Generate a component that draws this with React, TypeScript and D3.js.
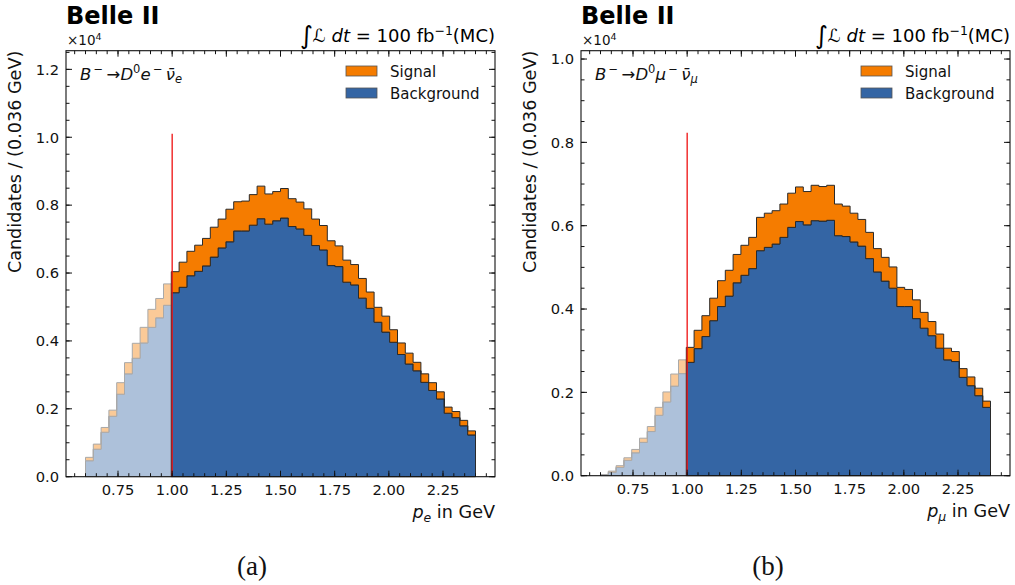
import React from "react";
import * as d3 from "d3";

// ---------- data ----------
const histLow = 0.6;
const binWidth = 0.036;
const nBins = 50;
const cutValue = 1.0;
const nBelowCut = 11; // bins drawn faded (below p = 1 GeV)

const xTicks = [0.75, 1.0, 1.25, 1.5, 1.75, 2.0, 2.25];
const xTickLabels = ["0.75", "1.00", "1.25", "1.50", "1.75", "2.00", "2.25"];
const yTicksA = [0, 0.2, 0.4, 0.6, 0.8, 1.0, 1.2];
const yTickLabelsA = ["0.0", "0.2", "0.4", "0.6", "0.8", "1.0", "1.2"];
const yTicksB = [0, 0.2, 0.4, 0.6, 0.8, 1.0];
const yTickLabelsB = ["0.0", "0.2", "0.4", "0.6", "0.8", "1.0"];

// electron channel (units of 10^4 candidates)
const backgroundE = [
  0.047, 0.081, 0.131, 0.178, 0.243, 0.303, 0.349, 0.394, 0.44, 0.468,
  0.505, 0.542, 0.558, 0.592, 0.605, 0.621, 0.647, 0.674, 0.692, 0.724,
  0.724, 0.741, 0.76, 0.744, 0.754, 0.762, 0.737, 0.73, 0.711, 0.681,
  0.668, 0.622, 0.619, 0.573, 0.565, 0.526, 0.496, 0.455, 0.426, 0.396,
  0.36, 0.332, 0.312, 0.278, 0.254, 0.229, 0.187, 0.174, 0.15, 0.123,
];
const signalE = [
  0.01, 0.015, 0.014, 0.018, 0.034, 0.033, 0.044, 0.046, 0.053, 0.057,
  0.063, 0.062, 0.074, 0.072, 0.077, 0.081, 0.088, 0.085, 0.096, 0.086,
  0.088, 0.09, 0.096, 0.089, 0.086, 0.087, 0.082, 0.079, 0.078, 0.078,
  0.072, 0.073, 0.061, 0.065, 0.06, 0.058, 0.048, 0.044, 0.047, 0.037,
  0.034, 0.032, 0.025, 0.025, 0.023, 0.021, 0.018, 0.018, 0.016, 0.012,
];

// muon channel
const backgroundMu = [
  0.002, 0.008, 0.02, 0.037, 0.055, 0.08, 0.106, 0.145, 0.177, 0.215,
  0.245, 0.272, 0.305, 0.334, 0.372, 0.406, 0.431, 0.463, 0.481, 0.497,
  0.54, 0.548, 0.556, 0.572, 0.596, 0.61, 0.602, 0.612, 0.611, 0.613,
  0.576, 0.574, 0.561, 0.551, 0.521, 0.489, 0.467, 0.45, 0.406, 0.406,
  0.377, 0.354, 0.336, 0.306, 0.278, 0.274, 0.236, 0.216, 0.192, 0.164,
];
const signalMu = [
  0.0, 0.003, 0.004, 0.006, 0.008, 0.01, 0.012, 0.019, 0.024, 0.029,
  0.033, 0.036, 0.044, 0.05, 0.054, 0.062, 0.062, 0.068, 0.072, 0.075,
  0.08, 0.082, 0.08, 0.08, 0.082, 0.083, 0.08, 0.085, 0.083, 0.084,
  0.076, 0.073, 0.069, 0.064, 0.063, 0.056, 0.057, 0.051, 0.046, 0.041,
  0.045, 0.038, 0.034, 0.034, 0.028, 0.024, 0.021, 0.021, 0.018, 0.015,
];

const ORANGE = "#f57c00";
const BLUE = "#3465a4";
const EDGE = "#2a2a2a";
const FONT = "DejaVu Sans, sans-serif";

const edges = d3.range(nBins + 1).map((i) => histLow + i * binWidth);

type PanelProps = {
  left: number;
  right: number;
  top: number;
  bottom: number;
  yMax: number;
  yTicks: number[];
  yTickLabels: string[];
  background: number[];
  signal: number[];
  cutTop: number;
  lepton: string;
  caption: string;
  captionX: number;
};

function stepPts(lo: number[], hi: number[], from: number, to: number) {
  const pts: { x: number; lo: number; hi: number }[] = [];
  for (let i = from; i < to; i++) {
    pts.push({ x: edges[i], lo: lo[i], hi: hi[i] });
    pts.push({ x: edges[i + 1], lo: lo[i], hi: hi[i] });
  }
  return pts;
}

function Panel(p: PanelProps) {
  const x = d3.scaleLinear().domain([0.51, 2.49]).range([p.left, p.right]);
  const y = d3.scaleLinear().domain([0, p.yMax]).range([p.bottom, p.top]);
  const zeros = p.background.map(() => 0);
  const total = p.background.map((b, i) => b + p.signal[i]);

  const area = d3
    .area<{ x: number; lo: number; hi: number }>()
    .x((d) => x(d.x))
    .y0((d) => y(d.lo))
    .y1((d) => y(d.hi));

  const parts = [
    { from: 0, to: nBelowCut, opacity: 0.4 },
    { from: nBelowCut, to: nBins, opacity: 1 },
  ];

  const xMinor = d3.range(11, 50).map((k) => k * 0.05);
  const yMinor = d3.range(0, Math.floor(p.yMax / 0.05 + 1e-6) + 1).map((k) => k * 0.05);
  const major = 6;
  const minor = 3.5;

  const legX = p.right - 149;
  const decayX = p.left + 14;
  const sup = 11.5;

  return (
    <g>
      {/* histograms */}
      {parts.map((pt, k) => (
        <g key={k} opacity={pt.opacity}>
          <path
            d={area(stepPts(zeros, p.background, pt.from, pt.to)) || ""}
            fill={BLUE}
            stroke={EDGE}
            strokeWidth={1}
          />
          <path
            d={area(stepPts(p.background, total, pt.from, pt.to)) || ""}
            fill={ORANGE}
            stroke={EDGE}
            strokeWidth={1}
          />
        </g>
      ))}
      {/* cut line */}
      <line
        x1={x(cutValue)}
        x2={x(cutValue)}
        y1={y(0)}
        y2={y(p.cutTop)}
        stroke="#ee1111"
        strokeWidth={1.3}
      />
      {/* frame */}
      <rect
        x={p.left}
        y={p.top}
        width={p.right - p.left}
        height={p.bottom - p.top}
        fill="none"
        stroke="#111"
        strokeWidth={1.1}
      />
      {/* x ticks */}
      {xTicks.map((t) => (
        <g key={"xt" + t}>
          <line x1={x(t)} x2={x(t)} y1={p.bottom} y2={p.bottom - major} stroke="#111" />
          <line x1={x(t)} x2={x(t)} y1={p.top} y2={p.top + major} stroke="#111" />
        </g>
      ))}
      {xMinor.map((t) => (
        <g key={"xm" + t}>
          <line x1={x(t)} x2={x(t)} y1={p.bottom} y2={p.bottom - minor} stroke="#111" />
          <line x1={x(t)} x2={x(t)} y1={p.top} y2={p.top + minor} stroke="#111" />
        </g>
      ))}
      {xTicks.map((t, i) => (
        <text
          key={"xl" + t}
          x={x(t)}
          y={p.bottom + 18}
          textAnchor="middle"
          fontFamily={FONT}
          fontSize={14.7}
          fill="#111"
        >
          {xTickLabels[i]}
        </text>
      ))}
      {/* y ticks */}
      {p.yTicks.map((t) => (
        <g key={"yt" + t}>
          <line x1={p.left} x2={p.left + major} y1={y(t)} y2={y(t)} stroke="#111" />
          <line x1={p.right} x2={p.right - major} y1={y(t)} y2={y(t)} stroke="#111" />
        </g>
      ))}
      {yMinor.map((t) => (
        <g key={"ym" + t}>
          <line x1={p.left} x2={p.left + minor} y1={y(t)} y2={y(t)} stroke="#111" />
          <line x1={p.right} x2={p.right - minor} y1={y(t)} y2={y(t)} stroke="#111" />
        </g>
      ))}
      {p.yTicks.map((t, i) => (
        <text
          key={"yl" + t}
          x={p.left - 7}
          y={y(t) + 5.3}
          textAnchor="end"
          fontFamily={FONT}
          fontSize={14.7}
          fill="#111"
        >
          {p.yTickLabels[i]}
        </text>
      ))}
      {/* y label */}
      <text
        transform={`translate(${p.left - 45},${p.top}) rotate(-90)`}
        textAnchor="end"
        fontFamily={FONT}
        fontSize={17.6}
        fill="#111"
      >
        Candidates / (0.036 GeV)
      </text>
      {/* x label */}
      <text
        x={p.right}
        y={p.bottom + 41}
        textAnchor="end"
        fontFamily={FONT}
        fontSize={17.6}
        fill="#111"
      >
        <tspan fontStyle="italic">p</tspan>
        <tspan fontStyle="italic" fontSize={12.5} dy={4}>
          {p.lepton}
        </tspan>
        <tspan dy={-4}> in GeV</tspan>
      </text>
      {/* Belle II */}
      <text x={p.left} y={24} fontFamily={FONT} fontWeight="bold" fontSize={24} fill="#000">
        Belle II
      </text>
      <text x={p.left + 1} y={44.5} fontFamily={FONT} fontSize={13.5} fill="#111">
        ×10
        <tspan fontSize={9.5} dy={-5}>
          4
        </tspan>
      </text>
      {/* luminosity */}
      <text x={p.right} y={42} textAnchor="end" fontFamily={FONT} fontSize={18} fill="#000">
        <tspan fontSize={25} dy={2}>
          ∫
        </tspan>
        <tspan fontStyle="italic" dy={-2}>
          ℒ
        </tspan>
        <tspan fontStyle="italic"> dt</tspan>
        <tspan> = 100 fb</tspan>
        <tspan fontSize={12.5} dy={-7}>
          −1
        </tspan>
        <tspan dy={7}>(MC)</tspan>
      </text>
      {/* decay label */}
      <text x={decayX} y={80} fontFamily={FONT} fontSize={16.5} fill="#111">
        <tspan fontStyle="italic">B</tspan>
        <tspan fontSize={sup} dy={-7}>
          {"\u2009−"}
        </tspan>
        <tspan dy={7}>{"\u2009→"}</tspan>
        <tspan fontStyle="italic">D</tspan>
        <tspan fontSize={sup} dy={-7}>
          0
        </tspan>
        <tspan fontStyle="italic" dy={7}>
          {p.lepton}
        </tspan>
        <tspan fontSize={sup} dy={-7}>
          {"\u2009−"}
        </tspan>
        <tspan fontStyle="italic" dy={7}>
          {"\u2009ν\u0304"}
        </tspan>
        <tspan fontStyle="italic" fontSize={sup} dy={3}>
          {p.lepton}
        </tspan>
      </text>
      {/* legend */}
      <rect x={legX} y={66} width={31} height={10} fill={ORANGE} stroke="#555" strokeWidth={0.8} />
      <rect x={legX} y={88} width={31} height={10} fill={BLUE} stroke="#555" strokeWidth={0.8} />
      <text x={legX + 44} y={76.5} fontFamily={FONT} fontSize={15} fill="#111">
        Signal
      </text>
      <text x={legX + 44} y={98.5} fontFamily={FONT} fontSize={15} fill="#111">
        Background
      </text>
      {/* caption */}
      <text
        x={p.captionX}
        y={575}
        textAnchor="middle"
        fontFamily="Liberation Serif, serif"
        fontSize={27}
        fill="#111"
      >
        {p.caption}
      </text>
    </g>
  );
}

export default function App() {
  return (
    <svg
      width={1015}
      height={585}
      style={{ position: "absolute", left: 0, top: 0, background: "#fff" }}
    >
      <rect width={1015} height={585} fill="#fff" />
      <Panel
        left={66}
        right={495}
        top={50.7}
        bottom={476.7}
        yMax={1.255}
        yTicks={yTicksA}
        yTickLabels={yTickLabelsA}
        background={backgroundE}
        signal={signalE}
        cutTop={1.01}
        lepton="e"
        caption="(a)"
        captionX={252}
      />
      <Panel
        left={581}
        right={1010}
        top={50.7}
        bottom={475.7}
        yMax={1.02}
        yTicks={yTicksB}
        yTickLabels={yTickLabelsB}
        background={backgroundMu}
        signal={signalMu}
        cutTop={0.823}
        lepton="μ"
        caption="(b)"
        captionX={768}
      />
    </svg>
  );
}
